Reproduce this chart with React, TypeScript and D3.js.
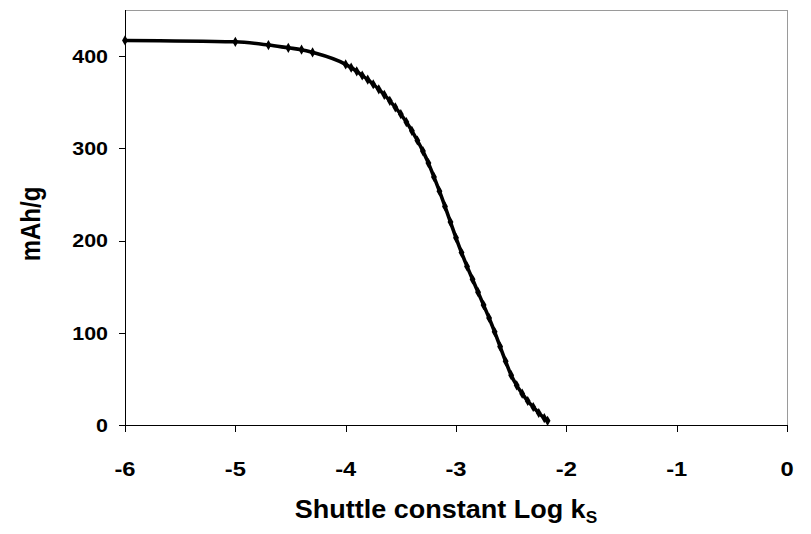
import React from "react";
import * as d3 from "d3";

const logK = [
  -6, -5, -4.7, -4.52, -4.4, -4.3, -4.0, -3.95, -3.9, -3.85, -3.8, -3.75, -3.7, -3.65, -3.6,
  -3.55, -3.5, -3.45, -3.4, -3.35, -3.3, -3.25, -3.2, -3.15, -3.1, -3.05, -3.0, -2.95, -2.9,
  -2.85, -2.8, -2.75, -2.7, -2.65, -2.6, -2.55, -2.5, -2.45, -2.4, -2.35, -2.3, -2.25, -2.2, -2.17,
];
const capacity = [
  417, 415.5, 412, 409, 407, 404, 391, 387.5, 383.5, 379, 374.5, 369.5, 364, 358, 351.5,
  344.5, 337, 328.5, 319, 308.5, 297, 284, 269, 253.5, 237, 220, 203, 187, 172,
  158, 144, 130, 116, 101, 85, 69, 54, 43, 34, 26, 19.5, 13, 7.5, 4.5,
];
const xTicks = [-6, -5, -4, -3, -2, -1, 0];
const yTicks = [0, 100, 200, 300, 400];

const W = 811;
const H = 534;
const left = 125;
const right = 787;
const top = 10;
const bottom = 425;
const SX = 1.13;

export default function App() {
  const x = d3.scaleLinear().domain([-6, 0]).range([left, right]);
  const y = d3.scaleLinear().domain([0, 450]).range([bottom, top]);
  const pts = logK.map((k, i) => [k, capacity[i]] as [number, number]);
  const line = d3
    .line<[number, number]>()
    .x((d) => x(d[0]))
    .y((d) => y(d[1]))
    .curve(d3.curveMonotoneX);
  const diamond = d3.symbol().type(d3.symbolDiamond).size(30)();
  const font = "'Liberation Sans', Arial, sans-serif";

  return (
    <svg
      width={W}
      height={H}
      style={{ position: "absolute", left: 0, top: 0, background: "#fff" }}
      fontFamily={font}
    >
      <rect x={0} y={0} width={W} height={H} fill="#fff" />
      <line x1={left} x2={right + 0.5} y1={top + 0.5} y2={top + 0.5} stroke="#9a9a9a" strokeWidth={1} />
      <line x1={right + 0.5} x2={right + 0.5} y1={top} y2={bottom} stroke="#9a9a9a" strokeWidth={1} />
      <line x1={left + 0.5} x2={left + 0.5} y1={top} y2={bottom + 0.5} stroke="#000" strokeWidth={1} />
      <line x1={left} x2={right + 1} y1={bottom + 0.5} y2={bottom + 0.5} stroke="#000" strokeWidth={1} />
      {xTicks.map((t) => (
        <g key={"x" + t}>
          <line x1={Math.round(x(t)) + 0.5} x2={Math.round(x(t)) + 0.5} y1={bottom} y2={bottom + 7} stroke="#000" />
          <text
            transform={`translate(${x(t)},476) scale(${SX},1)`}
            textAnchor="middle"
            fontSize={21}
            fontWeight="bold"
          >
            {t}
          </text>
        </g>
      ))}
      {yTicks.map((t) => (
        <g key={"y" + t}>
          <line x1={left - 6} x2={left} y1={Math.round(y(t)) + 0.5} y2={Math.round(y(t)) + 0.5} stroke="#000" />
          <text
            transform={`translate(108,${y(t) + 6.8}) scale(${SX},1)`}
            textAnchor="end"
            fontSize={19}
            fontWeight="bold"
          >
            {t}
          </text>
        </g>
      ))}
      <path d={line(pts) || ""} fill="none" stroke="#000" strokeWidth={3.6} strokeLinejoin="round" />
      {pts.map((p, i) => (
        <path key={i} d={diamond} transform={`translate(${x(p[0])},${y(p[1])})`} fill="#000" />
      ))}
      <text
        transform={`translate(40,224) scale(${SX},1) rotate(-90)`}
        textAnchor="middle"
        fontSize={24}
        fontWeight="bold"
      >
        mAh/g
      </text>
      <text
        transform={`translate(446,518) scale(1.08,1)`}
        textAnchor="middle"
        fontSize={25}
        fontWeight="bold"
      >
        Shuttle constant Log k
        <tspan fontSize={16} dy={5}>S</tspan>
      </text>
    </svg>
  );
}
